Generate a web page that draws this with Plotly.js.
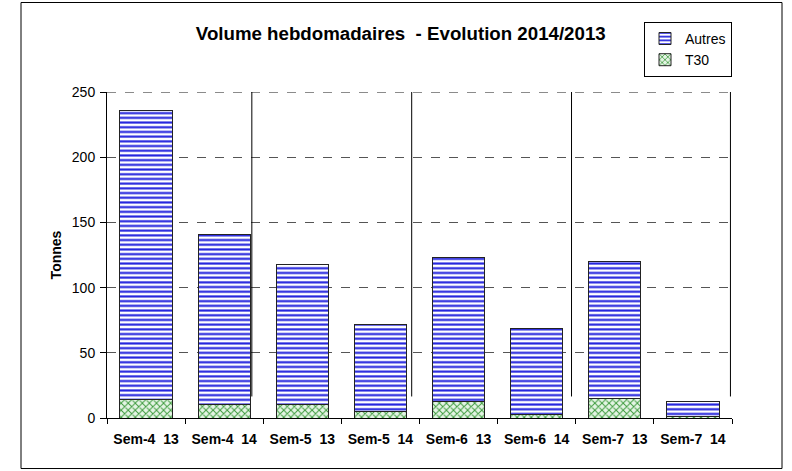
<!DOCTYPE html>
<html>
<head>
<meta charset="utf-8">
<script src="https://cdn.plot.ly/plotly-3.0.1.min.js"></script>
<style>html,body{margin:0;padding:0;background:#fff;}#chart{width:792px;height:471px;}</style>
</head>
<body>
<div id="chart"></div>
<script>
const categories = ["Sem-4\u00a0 13", "Sem-4\u00a0 14", "Sem-5\u00a0 13", "Sem-5\u00a0 14", "Sem-6\u00a0 13", "Sem-6\u00a0 14", "Sem-7\u00a0 13", "Sem-7\u00a0 14"];
const t30 = [14, 10, 10, 5, 13, 3, 15, 1];
const autres = [222, 131, 108, 67, 110, 66, 105, 12];
const yTicks = [0, 50, 100, 150, 200, 250];
const separatorX = [1.354, 3.40, 5.446, 7.48];
const yMax = 250;

const FONT = "Liberation Sans, Arial, sans-serif";

const traces = [
  {
    type: "bar", name: "T30", x: categories, y: t30,
    marker: {
      color: "#d6efd6",
      line: {color: "#222", width: 1},
      pattern: {shape: "x", fgcolor: "#3c9a3c", bgcolor: "#e4f4e4", size: 5, solidity: 0.35}
    }
  },
  {
    type: "bar", name: "Autres", x: categories, y: autres,
    marker: {
      color: "#ffffff",
      line: {color: "#222", width: 1},
      pattern: {shape: "-", fgcolor: "#2222dd", bgcolor: "#ffffff", size: 4.7, solidity: 0.45}
    }
  }
];

const shapes = separatorX.map(x => ({
  type: "line", xref: "x", yref: "y", x0: x, x1: x, y0: 16.5, y1: 263.5,
  line: {color: "#000", width: 1}
}));
shapes.push({
  type: "line", xref: "paper", yref: "y", x0: 0, x1: 1, y0: yMax, y1: yMax,
  line: {color: "#666", width: 1.5, dash: "dash"}, layer: "below"
});
shapes.push({
  type: "rect", xref: "paper", yref: "paper",
  x0: -0.1376, x1: 1.08, y0: -0.155, y1: 1.2745,
  line: {color: "#000", width: 1}, fillcolor: "rgba(0,0,0,0)", layer: "below"
});

const layout = {
  width: 792, height: 471,
  margin: {l: 107, r: 60, t: 92, b: 52.5},
  paper_bgcolor: "#fff", plot_bgcolor: "#fff",
  font: {family: FONT, color: "#000", size: 14},
  barmode: "stack", bargap: 0.33,
  showlegend: true,
  title: {
    text: "<b>Volume hebdomadaires\u00a0 - Evolution 2014/2013</b>",
    font: {family: FONT, size: 18.7, color: "#000"},
    x: 0.506, xanchor: "center", y: 0.93, yanchor: "middle"
  },
  xaxis: {
    type: "category",
    showline: true, linecolor: "#000", linewidth: 1,
    ticks: "outside", tickson: "boundaries", ticklen: 5, tickcolor: "#000",
    showgrid: false, zeroline: false,
    tickfont: {family: FONT, size: 14, color: "#000", weight: "bold"},
    ticklabelstandoff: 8
  },
  yaxis: {
    range: [0, yMax], tickvals: yTicks,
    showline: true, linecolor: "#000", linewidth: 1,
    ticks: "outside", ticklen: 6, tickcolor: "#000",
    showgrid: true, gridcolor: "#555", griddash: "dash", gridwidth: 1,
    zeroline: false,
    tickfont: {family: FONT, size: 14, color: "#000"},
    ticklabelstandoff: 2,
    title: {text: "<b>Tonnes</b>", font: {family: FONT, size: 14, color: "#000"}, standoff: 6}
  },
  legend: {
    x: 1.0, xanchor: "right", y: 1.215, yanchor: "top",
    bgcolor: "#fff", bordercolor: "#000", borderwidth: 1,
    font: {family: FONT, size: 14, color: "#000"},
    itemwidth: 30, tracegroupgap: 0
  },
  shapes: shapes
};

Plotly.newPlot("chart", traces, layout, {displayModeBar: false, staticPlot: true});
</script>
</body>
</html>
